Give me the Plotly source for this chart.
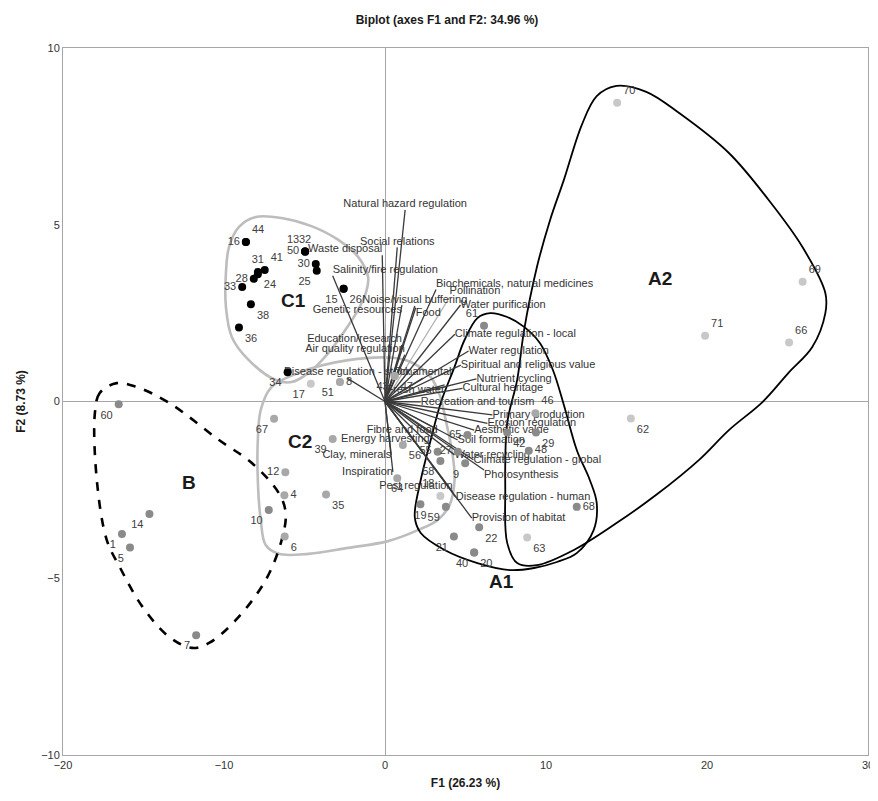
import plotly.graph_objects as go

# ---------------- Observations (F1, F2) ----------------
obs_labels = ["16", "44", "31", "41", "28", "24", "33", "38", "36", "13", "32", "50", "30", "25", "15", "26", "34",
              "17", "51", "8", "43", "47", "67", "12", "4", "10", "6", "39", "35", "64",
              "60", "14", "1", "5", "7",
              "61", "46", "42", "29", "48", "65", "55", "27", "56", "58", "9", "18", "19", "59", "22", "21", "40", "20",
              "63", "68", "70", "69", "71", "66", "62"]
obs_f1 = [-8.64, -8.64, -7.90, -7.47, -8.15, -7.90, -8.87, -8.33, -9.07, -4.96, -4.96, -4.96, -4.30, -4.24, -2.57, -2.57, -6.05,
          -4.61, -2.80, -2.80, 0.60, 0.60, -6.89, -6.19, -6.25, -7.22, -6.23, -3.25, -3.66, 0.76,
          -16.54, -14.63, -16.34, -15.84, -11.73,
          6.15, 9.34, 7.59, 9.38, 8.93, 5.12, 3.27, 4.53, 1.11, 3.44, 4.98, 3.44, 2.20, 3.78, 5.85, 4.28, 5.54, 5.54,
          8.83, 11.91, 14.42, 25.94, 19.88, 25.10, 15.27]
obs_f2 = [4.51, 4.51, 3.66, 3.72, 3.47, 3.60, 3.24, 2.75, 2.09, 4.24, 4.24, 4.24, 3.89, 3.70, 3.19, 3.19, 0.83,
          0.50, 0.55, 0.55, 0.72, 0.72, -0.49, -2.00, -2.65, -3.07, -3.82, -1.06, -2.63, -2.17,
          -0.08, -3.18, -3.75, -4.13, -6.61,
          2.14, -0.33, -0.88, -0.88, -1.39, -0.95, -1.42, -1.42, -1.23, -1.68, -1.75, -2.67, -2.91, -2.98, -3.56, -3.82, -4.27, -4.27,
          -3.85, -2.98, 8.45, 3.39, 1.86, 1.67, -0.48]
obs_shade = ["k"] * 17 + ["l", "l", "m", "m", "m", "m", "m", "m", "d", "m", "m", "m", "m"] + ["d"] * 5 + \
            ["d", "m", "d", "d", "d", "d", "d", "d", "m", "d", "d", "l", "d", "d", "d", "d", "d", "d",
             "l", "d", "l", "l", "l", "l", "l"]

# ---------------- Variables (loadings) ----------------
var_labels = ["Natural hazard regulation", "Social relations", "Waste disposal", "Salinity/fire regulation",
              "Biochemicals, natural medicines", "Pollination", "Noise/visual buffering", "Water purification",
              "Food", "Genetic resources", "Education/research", "Air quality regulation",
              "Disease regulation - stock", "Ornamental", "Climate regulation - local", "Water regulation",
              "Spiritual and religious value", "Nutrient cycling", "Fresh water", "Cultural heritage",
              "Recreation and tourism", "Primary production", "Erosion regulation", "Aesthetic value",
              "Fibre and food", "Soil formation", "Energy harvesting", "Water recycling", "Clay, minerals",
              "Climate regulation - global", "Inspiration", "Photosynthesis", "Pest regulation",
              "Disease regulation - human", "Provision of habitat"]
var_f1 = [1.25, 0.76, -0.17, -3.25, 3.17, 4.01, 1.85, 4.69, 1.91, 1.05, 1.05, 1.23, -2.35, 2.35, 4.34, 5.19,
          4.71, 5.68, 3.70, 4.81, 2.22, 6.67, 6.36, 5.54, 3.27, 4.51, 2.78, 4.32, 0.39, 5.49, 0.49, 6.15, 4.20,
          4.40, 5.39]
var_f2 = [5.42, 4.36, 4.14, 3.56, 3.17, 2.95, 2.70, 2.73, 2.65, 2.73, 1.60, 1.32, 0.66, 0.66, 1.90, 1.43,
          1.03, 0.64, 0.47, 0.37, -0.01, -0.38, -0.62, -0.81, -0.80, -1.09, -1.23, -1.51, -1.51, -1.65, -1.99,
          -1.94, -2.56, -2.71, -3.30]

# ---------------- Group outlines (control points) ----------------
c1_x = [-8.02, -6.42, -4.57, -2.90, -1.67, -1.05, -1.17, -1.67, -2.47, -3.52, -4.75, -5.80, -6.79, -8.46, -9.51, -9.88, -9.88, -9.69, -9.07, -8.02]
c1_y = [5.22, 5.19, 4.96, 4.57, 4.09, 3.52, 3.10, 2.59, 2.02, 1.37, 0.81, 0.55, 0.61, 1.17, 1.82, 2.67, 3.64, 4.37, 4.94, 5.22]
c2_x = [-5.37, -2.28, 0.62, 1.73, 2.84, 3.40, 3.77, 4.20, 4.32, 4.01, 3.27, 2.04, 0.19, -2.28, -4.75, -6.60, -7.41, -7.72, -7.90, -7.90, -7.72, -7.10, -5.37]
c2_y = [0.81, 1.17, 1.23, 1.09, 0.69, 0.18, -0.52, -1.51, -2.22, -2.93, -3.35, -3.64, -3.95, -4.14, -4.31, -4.31, -4.06, -3.35, -2.22, -1.09, -0.24, 0.38, 0.81]
b_x = [-16.67, -17.72, -18.02, -17.90, -17.28, -16.48, -15.06, -13.40, -11.98, -10.93, -9.26, -7.41, -6.42, -6.17, -6.60, -8.27, -10.31, -13.40, -15.43, -16.67]
b_y = [0.52, 0.24, -0.33, -2.22, -3.92, -4.68, -5.81, -6.66, -6.97, -6.83, -6.18, -5.05, -3.92, -3.15, -2.59, -1.74, -1.09, -0.04, 0.41, 0.52]
a1_x = [6.54, 7.59, 8.64, 9.63, 10.43, 11.11, 11.91, 12.72, 13.15, 12.96, 11.91, 10.68, 9.26, 7.78, 5.74, 3.70, 2.22, 1.85, 2.22, 2.84, 3.46, 4.32, 4.94, 5.74, 6.54]
a1_y = [2.50, 2.39, 2.11, 1.65, 0.89, -0.10, -1.37, -2.22, -2.87, -3.64, -4.29, -4.54, -4.71, -4.77, -4.57, -4.20, -3.72, -3.27, -2.22, -1.09, -0.04, 0.98, 1.74, 2.36, 2.50]
a2_x = [14.38, 16.23, 18.27, 21.36, 23.83, 25.93, 27.35, 27.35, 26.54, 25.06, 23.46, 21.36, 19.51, 16.85, 14.38, 11.73, 9.44, 8.21, 7.59, 7.47, 7.59, 8.21, 8.64, 9.44, 10.25, 11.11, 12.22, 13.15, 14.38]
a2_y = [8.93, 8.76, 8.16, 7.03, 5.70, 4.37, 3.07, 2.50, 1.54, 0.81, -0.01, -0.81, -1.65, -2.64, -3.44, -4.20, -4.63, -4.57, -4.00, -2.50, -0.61, 0.61, 2.02, 3.81, 5.13, 6.27, 7.82, 8.64, 8.93]

group_names = ["C1", "C2", "B", "A1", "A2"]
group_x = [-5.68, -5.25, -12.16, 7.22, 17.1]
group_y = [2.87, -1.12, -2.28, -5.1, 3.47]

# ---------------- Styling ----------------
shade_colors = {"k": "#000000", "d": "#8a8a8a", "m": "#a8a8a8", "l": "#c8c8c8"}
obs_textpos = ["middle left", "top right", "top center", "top right", "middle left", "bottom right", "middle left",
               "bottom right", "bottom right", "top left", "top center", "middle left", "middle left", "bottom left",
               "bottom left", "bottom right", "bottom left",
               "bottom left", "bottom left", "middle right", "bottom left", "bottom right", "bottom left", "middle left",
               "middle right", "bottom left", "bottom right", "bottom left", "bottom right", "bottom center",
               "bottom left", "bottom left", "bottom left", "bottom left", "bottom left",
               "top left", "top right", "bottom right", "bottom right", "middle right", "middle left", "middle left",
               "middle left", "bottom right", "bottom left", "bottom left", "top left", "bottom center", "bottom left",
               "bottom right", "bottom left", "bottom left", "bottom right",
               "bottom right", "middle right", "top right", "top right", "top right", "top right", "bottom right"]
var_textpos = ["top center", "top center", "top left", "top right", "top right", "top right", "top center",
               "middle right", "bottom right", "bottom left", "top left", "top left", "top center", "top center",
               "middle right", "middle right", "middle right", "middle right", "bottom left", "middle right",
               "middle right", "middle right", "middle right", "middle right", "middle left", "middle right",
               "top left", "middle right", "middle left", "middle right", "middle left", "bottom right",
               "top left", "middle right", "middle right"]
var_colors = ["#3a3a3a"] * len(var_labels)
var_colors[5] = "#b0b0b0"

FONT = "Liberation Sans"
fig = go.Figure()

# outlines
outline_specs = [
    (c1_x, c1_y, "#bdbdbd", "solid", 2.6),
    (c2_x, c2_y, "#bdbdbd", "solid", 2.6),
    (b_x, b_y, "#000000", "dash", 2.6),
    (a1_x, a1_y, "#000000", "solid", 1.8),
    (a2_x, a2_y, "#000000", "solid", 1.8),
]
for xs, ys, col, dash, w in outline_specs:
    fig.add_trace(go.Scatter(x=xs, y=ys, mode="lines", line=dict(color=col, width=w, dash=dash, shape="spline", smoothing=1.0),
                             hoverinfo="skip", showlegend=False))

# vectors
for lab, vx, vy, col in zip(var_labels, var_f1, var_f2, var_colors):
    fig.add_trace(go.Scatter(x=[0, vx], y=[0, vy], mode="lines", line=dict(color=col, width=1.3),
                             hoverinfo="skip", showlegend=False))
fig.add_trace(go.Scatter(x=var_f1, y=var_f2, mode="text", text=var_labels, textposition=var_textpos,
                         textfont=dict(family=FONT, size=11, color="#333333"), showlegend=False, hoverinfo="skip"))

# observations
fig.add_trace(go.Scatter(x=obs_f1, y=obs_f2, mode="markers+text", text=obs_labels, textposition=obs_textpos,
                         marker=dict(size=8, color=[shade_colors[s] for s in obs_shade]),
                         textfont=dict(family=FONT, size=11, color="#404040"), showlegend=False))

# group labels
for g, gx, gy in zip(group_names, group_x, group_y):
    fig.add_annotation(x=gx, y=gy, text="<b>" + g + "</b>", showarrow=False,
                       font=dict(family=FONT, size=19, color="#1a1a1a"))

fig.update_layout(
    width=878, height=801,
    margin=dict(l=55, r=13, t=40, b=54),
    plot_bgcolor="white", paper_bgcolor="white",
    title=dict(text="<b>Biplot (axes F1 and F2: 34.96 %)</b>", x=0.5, xanchor="center", y=0.99, yanchor="top",
               font=dict(family=FONT, size=12, color="#1a1a1a")),
    xaxis=dict(range=[-20, 30], dtick=10, showgrid=False, zeroline=True, zerolinecolor="#a6a6a6", zerolinewidth=1,
               showline=True, linecolor="#a6a6a6", mirror=True, ticks="",
               tickfont=dict(family=FONT, size=11, color="#333333"),
               title=dict(text="<b>F1 (26.23 %)</b>", font=dict(family=FONT, size=12, color="#1a1a1a"), standoff=8)),
    yaxis=dict(range=[-10, 10], dtick=5, showgrid=False, zeroline=True, zerolinecolor="#a6a6a6", zerolinewidth=1,
               showline=True, linecolor="#a6a6a6", mirror=True, ticks="",
               tickfont=dict(family=FONT, size=11, color="#333333"),
               title=dict(text="<b>F2 (8.73 %)</b>", font=dict(family=FONT, size=12, color="#1a1a1a"), standoff=12)),
)

fig.write_html("out.html")
